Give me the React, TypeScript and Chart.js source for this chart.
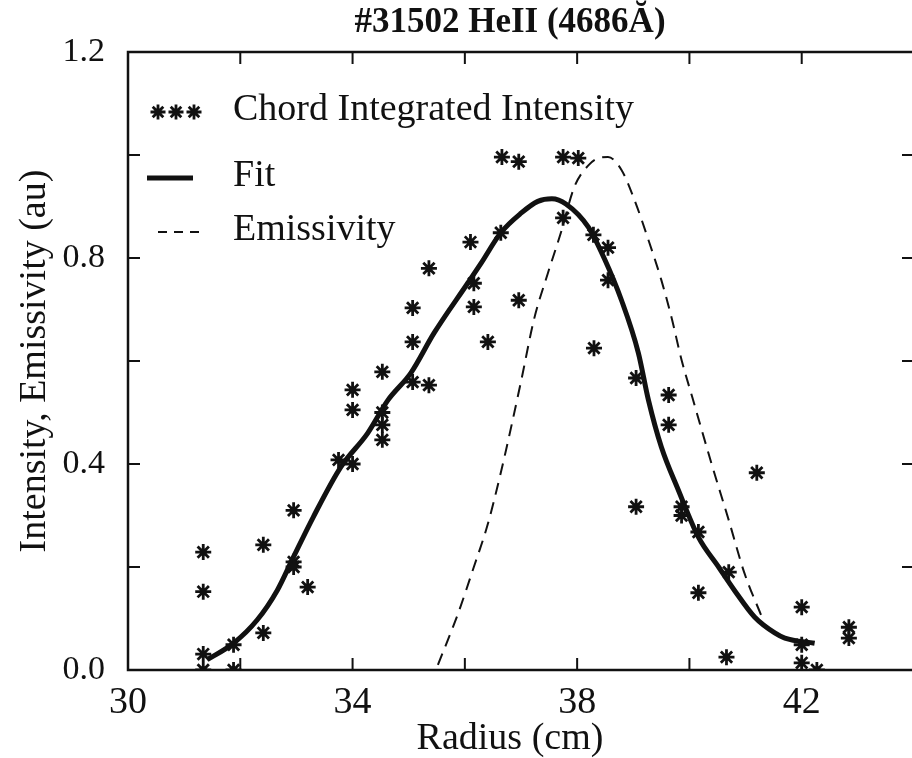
import React, { useEffect, useRef } from 'react';
import { Chart, registerables } from 'chart.js';

Chart.register(...registerables);

// ---------- data ----------
const chartTitle = '#31502 HeII (4686Ă)';
const xAxisTitle = 'Radius (cm)';
const yAxisTitle = 'Intensity, Emissivity (au)';
const seriesLabels = ['Chord Integrated Intensity', 'Fit', 'Emissivity'];

const xTickLabels = ['30', '34', '38', '42'];
const yTickLabels = ['0.0', '0.4', '0.8', '1.2'];

// chord integrated intensity (asterisks)
const measuredX = [
  31.34, 31.34, 31.34, 31.34, 31.88, 31.88, 32.41, 32.41, 32.95, 32.95, 32.95, 33.2,
  33.75, 34.0, 34.0, 34.0, 34.53, 34.53, 34.53, 34.53, 35.07, 35.07, 35.07, 35.36,
  35.36, 36.1, 36.16, 36.16, 36.41, 36.66, 36.96, 37.75, 38.02, 36.64, 37.75, 38.29,
  38.55, 38.55, 36.96, 38.3, 39.05, 39.63, 39.63, 41.2, 39.05, 39.86, 39.86, 40.16,
  40.7, 40.16, 42.0, 42.0, 42.0, 42.27, 40.66, 42.84, 42.84,
];
const measuredY = [
  0.229, 0.152, 0.031, 0.0, 0.049, 0.0, 0.243, 0.072, 0.31, 0.21, 0.2, 0.161,
  0.408, 0.4, 0.544, 0.505, 0.579, 0.5, 0.476, 0.447, 0.703, 0.637, 0.559, 0.553,
  0.78, 0.831, 0.751, 0.705, 0.637, 0.996, 0.987, 0.996, 0.994, 0.849, 0.878, 0.845,
  0.82, 0.757, 0.718, 0.625, 0.567, 0.534, 0.476, 0.383, 0.317, 0.317, 0.3, 0.268,
  0.19, 0.15, 0.122, 0.049, 0.014, 0.0, 0.025, 0.083, 0.062,
];

// fit (thick solid)
const fitX = [
  31.41, 31.88, 32.3, 32.66, 32.95, 33.3, 33.79, 34.27, 34.63, 35.04, 35.45, 36.05,
  36.29, 36.64, 37.0, 37.3, 37.55, 37.8, 38.2, 38.48, 38.79, 39.09, 39.27, 39.5,
  39.8, 40.16, 40.52, 40.8, 41.16, 41.52, 41.7, 42.23,
];
const fitY = [
  0.02, 0.052, 0.097, 0.155, 0.22, 0.297, 0.394, 0.46, 0.524, 0.577, 0.654, 0.751,
  0.79, 0.849, 0.887, 0.91, 0.915, 0.905, 0.86, 0.8, 0.718, 0.616, 0.524, 0.433,
  0.35, 0.258, 0.2, 0.155, 0.103, 0.072, 0.062, 0.052,
];

// emissivity (dashed)
const emisX = [
  35.52, 35.88, 36.16, 36.4, 36.64, 37.0, 37.23, 37.48, 37.71, 37.95, 38.2, 38.38,
  38.55, 38.79, 39.02, 39.27, 39.5, 39.68, 39.86, 40.05, 40.39, 40.7, 40.98, 41.29,
];
const emisY = [
  0.01, 0.11, 0.2, 0.28, 0.383, 0.56, 0.68, 0.771, 0.849, 0.938, 0.98, 0.994,
  0.996, 0.971, 0.913, 0.835, 0.757, 0.685, 0.602, 0.53, 0.402, 0.291, 0.188, 0.103,
];

// ---------- styling ----------
const INK = '#111111';
const SERIF = "'Liberation Serif', 'Times New Roman', Times, serif";

const toPoints = (xs: number[], ys: number[]) => xs.map((x, i) => ({ x, y: ys[i] }));

function drawAsterisk(ctx: CanvasRenderingContext2D, cx: number, cy: number, r: number) {
  ctx.beginPath();
  for (let k = 0; k < 4; k++) {
    const a = (k * Math.PI) / 4;
    ctx.moveTo(cx - r * Math.cos(a), cy - r * Math.sin(a));
    ctx.lineTo(cx + r * Math.cos(a), cy + r * Math.sin(a));
  }
  ctx.stroke();
}

const framePlugin = {
  id: 'frameAndLegend',
  afterDatasetsDraw(chart: any) {
    const { ctx, chartArea: a, scales } = chart;
    const xs = scales.x;
    const ys = scales.y;
    ctx.save();
    ctx.strokeStyle = INK;
    ctx.fillStyle = INK;
    ctx.lineCap = 'butt';

    // frame
    ctx.lineWidth = 2.5;
    ctx.strokeRect(a.left, a.top, a.right - a.left, a.bottom - a.top);

    // inward ticks
    const L = 12;
    ctx.lineWidth = 2;
    ctx.beginPath();
    xs.ticks.forEach((t: any) => {
      const px = xs.getPixelForValue(t.value);
      if (px <= a.left + 2 || px >= a.right - 2) return;
      ctx.moveTo(px, a.bottom);
      ctx.lineTo(px, a.bottom - L);
      ctx.moveTo(px, a.top);
      ctx.lineTo(px, a.top + L);
    });
    ys.ticks.forEach((t: any) => {
      const py = ys.getPixelForValue(t.value);
      if (py <= a.top + 2 || py >= a.bottom - 2) return;
      ctx.moveTo(a.left, py);
      ctx.lineTo(a.left + L, py);
      ctx.moveTo(a.right, py);
      ctx.lineTo(a.right - L, py);
    });
    ctx.stroke();

    // legend
    ctx.font = `38px ${SERIF}`;
    ctx.textAlign = 'left';
    ctx.textBaseline = 'middle';
    const tx = a.left + 105;
    const y1 = a.top + 60;
    const y2 = a.top + 126;
    const y3 = a.top + 180;
    ctx.lineWidth = 2.8;
    [30, 48, 66].forEach((dx) => drawAsterisk(ctx, a.left + dx, y1, 7.5));
    ctx.fillText(seriesLabels[0], tx, y1 - 2);
    ctx.lineWidth = 5;
    ctx.beginPath();
    ctx.moveTo(a.left + 19, y2);
    ctx.lineTo(a.left + 65, y2);
    ctx.stroke();
    ctx.fillText(seriesLabels[1], tx, y2 - 2);
    ctx.lineWidth = 2;
    ctx.setLineDash([9, 7]);
    ctx.beginPath();
    ctx.moveTo(a.left + 30, y3);
    ctx.lineTo(a.left + 73, y3);
    ctx.stroke();
    ctx.setLineDash([]);
    ctx.fillText(seriesLabels[2], tx, y3 - 2);

    // chart title and x-axis title
    const cx = a.left + (a.right - a.left) * 0.486;
    ctx.textAlign = 'center';
    ctx.font = `bold 35px ${SERIF}`;
    ctx.fillText(chartTitle, cx, 23);
    ctx.font = `38px ${SERIF}`;
    ctx.fillText(xAxisTitle, cx, 739);
    ctx.restore();
  },
};

export default function App() {
  const canvasRef = useRef<HTMLCanvasElement | null>(null);

  useEffect(() => {
    const canvas = canvasRef.current;
    if (!canvas) return;
    const chart = new Chart(canvas, {
      type: 'scatter',
      data: {
        datasets: [
          {
            label: seriesLabels[0],
            data: toPoints(measuredX, measuredY),
            showLine: false,
            pointStyle: 'star',
            pointRadius: 8,
            pointBorderWidth: 2.8,
            borderColor: INK,
            backgroundColor: INK,
          },
          {
            label: seriesLabels[1],
            data: toPoints(fitX, fitY),
            showLine: true,
            borderColor: INK,
            borderWidth: 5,
            pointRadius: 0,
            cubicInterpolationMode: 'monotone',
            fill: false,
          },
          {
            label: seriesLabels[2],
            data: toPoints(emisX, emisY),
            showLine: true,
            borderColor: INK,
            borderWidth: 2,
            borderDash: [12, 8],
            pointRadius: 0,
            cubicInterpolationMode: 'monotone',
            fill: false,
          },
        ],
      },
      options: {
        responsive: false,
        animation: false,
        events: [],
        layout: { padding: { left: 0, right: 2, top: 52, bottom: 0 } },
        plugins: {
          legend: { display: false },
          tooltip: { enabled: false },
          title: { display: false },
        },
        scales: {
          x: {
            type: 'linear',
            min: 30,
            max: 44,
            afterFit: (s: any) => {
              s.height = 88;
            },
            grid: { display: false, drawTicks: false },
            border: { display: false },
            ticks: {
              stepSize: 2,
              autoSkip: false,
              maxRotation: 0,
              padding: 14,
              color: INK,
              font: { family: SERIF, size: 38, lineHeight: 1 },
              callback: (v: any) => (xTickLabels.includes(String(v)) ? String(v) : ''),
            },
          },
          y: {
            type: 'linear',
            min: 0,
            max: 1.2,
            afterFit: (s: any) => {
              s.width = 128;
            },
            grid: { display: false, drawTicks: false },
            border: { display: false },
            ticks: {
              stepSize: 0.2,
              autoSkip: false,
              padding: 23,
              color: INK,
              font: { family: SERIF, size: 34, lineHeight: 1 },
              callback: (v: any) => {
                const s = Number(v).toFixed(1);
                return yTickLabels.includes(s) ? s : '';
              },
            },
            title: {
              display: true,
              text: yAxisTitle,
              color: INK,
              font: { family: SERIF, size: 38, lineHeight: 1.2 },
              padding: { top: 12, bottom: 0 },
            },
          },
        },
      },
      plugins: [framePlugin],
    } as any);
    return () => chart.destroy();
  }, []);

  return (
    <div
      style={{
        position: 'fixed',
        left: 0,
        top: 0,
        width: 912,
        height: 758,
        overflow: 'hidden',
        background: '#ffffff',
      }}
    >
      <canvas ref={canvasRef} width={928} height={758} style={{ display: 'block' }} />
    </div>
  );
}
